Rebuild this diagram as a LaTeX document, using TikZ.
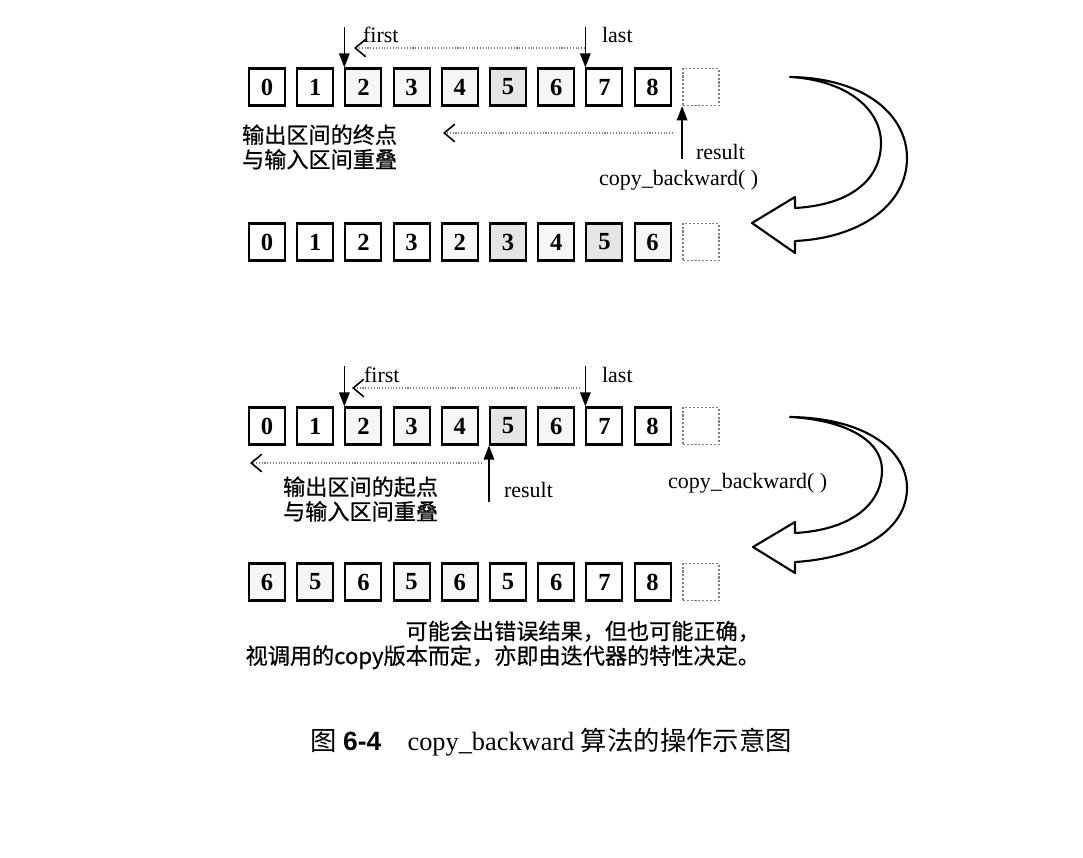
\documentclass[tikz,border=0pt]{standalone}
\usepackage{fontspec}
\setmainfont{Liberation Serif}
\newfontfamily\cjk[FakeBold=0.6]{Noto Sans CJK SC}
\newfontfamily\cjkcap{Noto Sans CJK SC}
\newfontfamily\capsans{Liberation Sans}
\usetikzlibrary{arrows.meta}

\tikzset{
	cell/.style={draw, line width=1.2pt, minimum width=0.72cm, minimum height=0.74cm, inner sep=0pt, font=\fontsize{14}{14}\selectfont\bfseries},
	plain/.style={},
	lite/.style={fill=gray!7},
	dark/.style={fill=gray!20},
	blank/.style={draw=gray, densely dotted, line width=0.8pt},
	ptr/.style={-{Triangle[length=8pt,width=6pt]}, line width=0.8pt},
	trace/.style={densely dotted, gray, line width=0.6pt, -{Straight Barb[length=6pt,width=10pt,color=black,line width=0.9pt]}},
	lbl/.style={font=\fontsize{12.5}{14}\selectfont, inner sep=1pt},
	cjktext/.style={font=\cjk\fontsize{12.6}{14}\selectfont, inner sep=1pt},
	uturn/.style={line width=1.2pt, fill=white, line join=round},
}

\begin{document}
\begin{tikzpicture}[x=0.02cm, y=-0.02cm]
	\useasboundingbox (0,0) rectangle (1083,858);
	% top rows
	\foreach \i/\v/\s in {0/0/plain,1/1/plain,2/2/lite,3/3/lite,4/4/lite,5/5/dark,6/6/lite,7/7/plain,8/8/plain}
		\node[cell,\s] (a\i) at (267+48.2*\i,87) {\v};
	\node[cell,blank] (a9) at (267+48.2*9,87) {};
	\foreach \i/\v/\s in {0/0/plain,1/1/plain,2/2/plain,3/3/plain,4/2/lite,5/3/dark,6/4/lite,7/5/dark,8/6/lite}
		\node[cell,\s] (b\i) at (267+48.2*\i,242) {\v};
	\node[cell,blank] (b9) at (267+48.2*9,242) {};
	%
	\node[lbl, anchor=west] (first1) at (361,35) {first};
	\node[lbl, anchor=west] (last1) at (600,35) {last};
	\node[lbl, anchor=west] (res1) at (694,152) {result};
	\node[cjktext, anchor=west, align=left] (note1) at (240,147) {输出区间的终点\\与输入区间重叠};
	\node[lbl, anchor=west] (call1) at (597,180) {copy\_backward( )};
	\coordinate (pf1) at ([yshift=23pt]a2.north west);
	\coordinate (pl1) at ([yshift=23pt]a7.north west);
	\coordinate (pr1) at ([yshift=-30pt]a9.south west);
	\coordinate (s1) at (585,48);
	\coordinate (e1) at (354,48);
	\coordinate (s2) at (673,133);
	\coordinate (e2) at (443,133);
	\draw[ptr] (pf1) -- (a2.north west);
	\draw[ptr] (pl1) -- (a7.north west);
	\draw[ptr] (pr1) -- (a9.south west);
	\draw[trace] (s1) -- (e1);
	\draw[trace] (s2) -- (e2);
	\draw[uturn] (790,77) .. controls (865,78) and (907,115) .. (907,158) .. controls (907,205) and (860,238) .. (795,241) -- (795,253) -- (752,223) -- (795,197) -- (795,208) .. controls (850,205) and (881,180) .. (881,143) .. controls (881,108) and (845,80) .. cycle;

	% bottom rows
	\foreach \i/\v/\s in {0/0/plain,1/1/plain,2/2/lite,3/3/lite,4/4/lite,5/5/dark,6/6/lite,7/7/plain,8/8/plain}
		\node[cell,\s] (c\i) at (267+48.2*\i,426) {\v};
	\node[cell,blank] (c9) at (267+48.2*9,426) {};
	\foreach \i/\v/\s in {0/6/lite,1/5/lite,2/6/plain,3/5/lite,4/6/lite,5/5/plain,6/6/plain,7/7/plain,8/8/plain}
		\node[cell,\s] (d\i) at (267+48.2*\i,582) {\v};
	\node[cell,blank] (d9) at (267+48.2*9,582) {};
	%
	\node[lbl, anchor=west] (first2) at (362,375) {first};
	\node[lbl, anchor=west] (last2) at (600,375) {last};
	\node[lbl, anchor=west] (res2) at (502,490) {result};
	\node[cjktext, anchor=west, align=left] (note2) at (281,499) {输出区间的起点\\与输入区间重叠};
	\node[lbl, anchor=west] (call2) at (666,483) {copy\_backward( )};
	\node[cjktext, anchor=east, align=right] (warn) at (762,645) {可能会出错误结果，但也可能正确，\\视调用的copy版本而定，亦即由迭代器的特性决定。};
	\coordinate (pf2) at ([yshift=23pt]c2.north west);
	\coordinate (pl2) at ([yshift=23pt]c7.north west);
	\coordinate (pr2) at ([yshift=-32pt]c5.south west);
	\coordinate (s3) at (580,388);
	\coordinate (e3) at (352,388);
	\coordinate (s4) at (482,463);
	\coordinate (e4) at (250,463);
	\draw[ptr] (pf2) -- (c2.north west);
	\draw[ptr] (pl2) -- (c7.north west);
	\draw[ptr] (pr2) -- (c5.south west);
	\draw[trace] (s3) -- (e3);
	\draw[trace] (s4) -- (e4);
	\draw[uturn] (790,417) .. controls (865,418) and (907,450) .. (907,488) .. controls (907,530) and (860,558) .. (795,562) -- (795,573) -- (753,547) -- (795,522) -- (795,533) .. controls (850,530) and (882,505) .. (882,470) .. controls (882,440) and (845,420) .. cycle;

	% caption
	\node[font=\fontsize{15}{17}\selectfont] (cap) at (551,742) {{\cjkcap 图} {\capsans\bfseries 6-4}\quad copy\_backward {\cjkcap 算法的操作示意图}};
\end{tikzpicture}
\end{document}
